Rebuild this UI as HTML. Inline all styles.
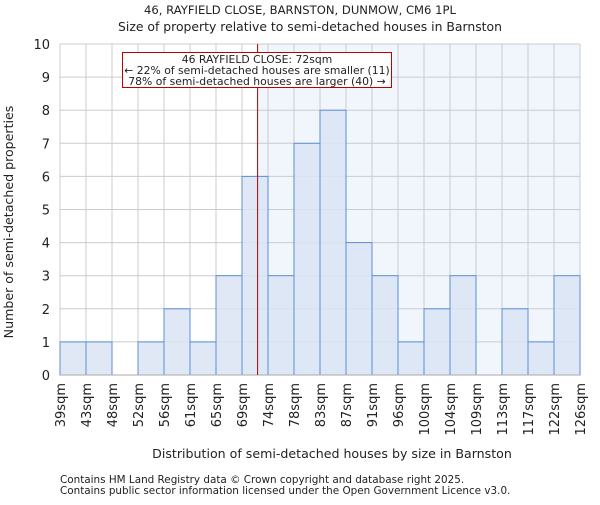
<!DOCTYPE html>
<html><head><meta charset="utf-8"><style>body{margin:0;background:#fff}svg text{font-family:"DejaVu Sans","Liberation Sans",sans-serif;fill:#222}</style></head>
<body>
<svg id="c" width="600" height="500">
<text x="300" y="14" font-size="11.6" text-anchor="middle">46, RAYFIELD CLOSE, BARNSTON, DUNMOW, CM6 1PL</text>
<text x="310" y="31" font-size="12.4" text-anchor="middle">Size of property relative to semi-detached houses in Barnston</text>
<g id="plot"></g>
<text x="332" y="458" font-size="12.6" text-anchor="middle">Distribution of semi-detached houses by size in Barnston</text>
<text transform="translate(13,222) rotate(-90)" font-size="12.6" text-anchor="middle">Number of semi-detached properties</text>
<text x="60" y="483" font-size="10.4" fill="#444">Contains HM Land Registry data © Crown copyright and database right 2025.</text>
<text x="60" y="494" font-size="10.4" fill="#444">Contains public sector information licensed under the Open Government Licence v3.0.</text>
</svg>
<script>
const tickLabels=["39sqm","43sqm","48sqm","52sqm","56sqm","61sqm","65sqm","69sqm","74sqm","78sqm","83sqm","87sqm","91sqm","96sqm","100sqm","104sqm","109sqm","113sqm","117sqm","122sqm","126sqm"];
const counts=[1,1,0,1,2,1,3,6,3,7,8,4,3,1,2,3,0,2,1,3];
const yTicks=[0,1,2,3,4,5,6,7,8,9,10];
const markerBinPos=[7.6];
const L=60,R=580,T=44,B=375,yMax=10;
const n=counts.length,bw=(R-L)/n;
const xs=i=>L+i*bw, ys=v=>B-(B-T)*v/yMax;
const ns="http://www.w3.org/2000/svg",g=document.getElementById('plot');
function mk(t,a,p){const e=document.createElementNS(ns,t);for(const k in a)e.setAttribute(k,a[k]);(p||g).appendChild(e);return e;}
const mx=xs(markerBinPos[0]);
let e=mk('rect',{x:mx,y:T,width:R-mx,height:B-T,fill:"#f1f5fc"});


yTicks.forEach(v=>{let l=mk('line',{x1:L,x2:R,y1:ys(v),y2:ys(v),stroke:"#ccc"});


let t=mk('text',{x:L-10,y:ys(v)+5,'font-size':13,'text-anchor':'end'});t.textContent=v;

});
tickLabels.forEach((s,i)=>{let l=mk('line',{x1:xs(i),x2:xs(i),y1:T,y2:B,stroke:"#ccc"});


let t=mk('text',{transform:`translate(${xs(i)+5},${B+8}) rotate(-90)`,'font-size':13,'text-anchor':'end'});t.textContent=s;

});
counts.forEach((v,i)=>{if(!v)return;let r=mk('rect',{x:xs(i),y:ys(v),width:bw,height:B-ys(v),fill:"#dae4f4",'fill-opacity':0.85,stroke:"#5b8fd6",'stroke-width':1});

});
e=mk('line',{x1:L,x2:R,y1:B,y2:B,stroke:"#aaa"});


e=mk('line',{x1:mx,x2:mx,y1:T,y2:B,stroke:"#b00000",'stroke-width':1});


const ag=mk('g',{});


mk('rect',{x:122.5,y:52.5,width:269,height:35,fill:"#fff",stroke:"#c00000"},ag);
["46 RAYFIELD CLOSE: 72sqm","← 22% of semi-detached houses are smaller (11)","78% of semi-detached houses are larger (40) →"].forEach((s,i)=>{let t=mk('text',{x:257,y:63+i*11,'font-size':10.8,'text-anchor':'middle'},ag);t.textContent=s;});
</script>
</body></html>
